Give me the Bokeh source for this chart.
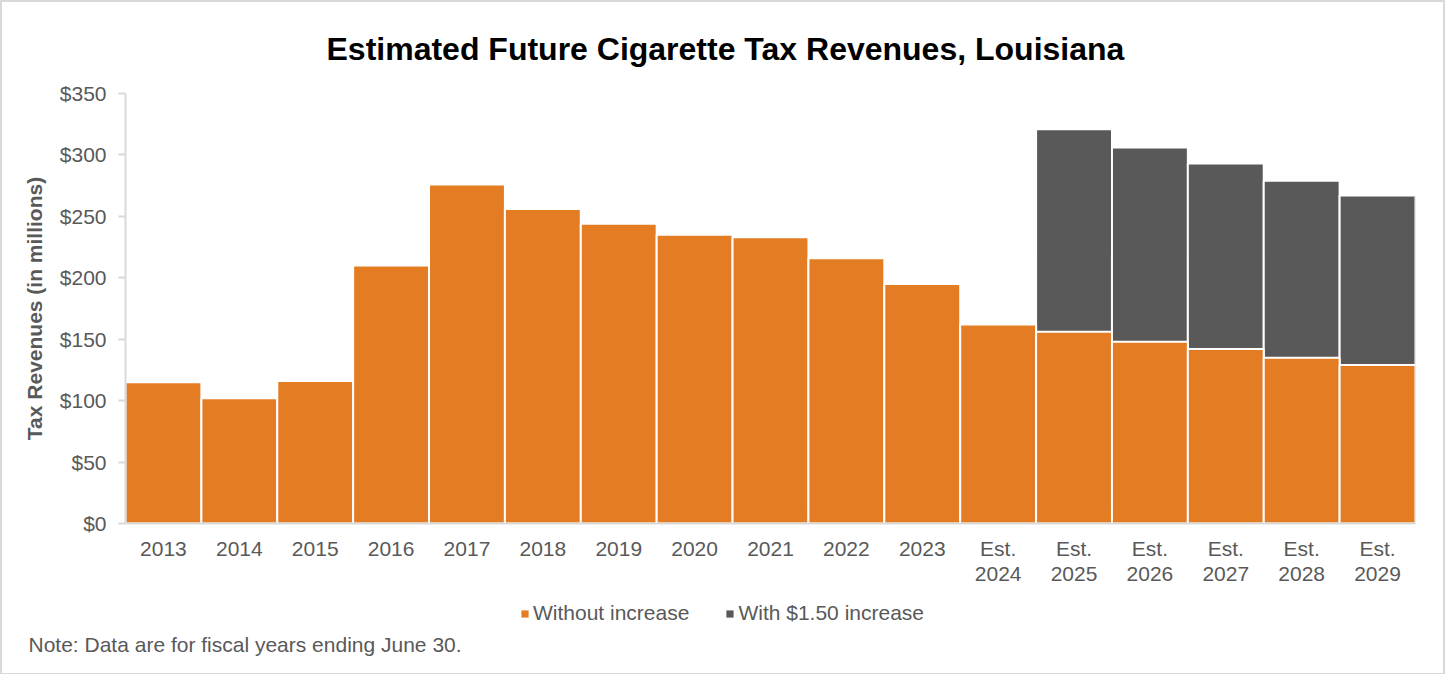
from bokeh.plotting import figure
from bokeh.models import (ColumnDataSource, FactorRange, Range1d, NumeralTickFormatter,
                          Legend, LegendItem, Title, FixedTicker)
from bokeh.layouts import column
from bokeh.embed import file_html
from bokeh.resources import INLINE

years = ["2013", "2014", "2015", "2016", "2017", "2018", "2019", "2020", "2021",
         "2022", "2023", "Est.\n2024", "Est.\n2025", "Est.\n2026", "Est.\n2027",
         "Est.\n2028", "Est.\n2029"]
without_increase = [115, 102, 116, 210, 276, 256, 244, 235, 233, 216, 195, 162,
                    156, 148, 142, 135, 129]
est_years = ["Est.\n2025", "Est.\n2026", "Est.\n2027", "Est.\n2028", "Est.\n2029"]
with_increase = [321, 306, 293, 279, 267]
series_names = ["Without increase", "With $1.50 increase"]
note_text = "Note: Data are for fiscal years ending June 30."
title_text = "Estimated Future Cigarette Tax Revenues, Louisiana"

ORANGE = "#E47C24"
GREY = "#595959"
TEXT = "#595959"
FONT = "Liberation Sans"
FS = "21px"

p = figure(frame_width=1290, frame_height=430, x_range=FactorRange(*years, range_padding=0),
           y_range=Range1d(0, 350), output_backend="svg", toolbar_location=None,
           min_border_left=123, min_border_right=28, min_border_top=91, min_border_bottom=62)

src_w = ColumnDataSource(dict(x=est_years, top=with_increase))
src_o = ColumnDataSource(dict(x=years, top=without_increase))
p.vbar(x="x", top="top", width=1.0, source=src_w, fill_color=GREY,
       line_color="white", line_width=2)
p.vbar(x="x", top="top", width=1.0, source=src_o, fill_color=ORANGE,
       line_color="white", line_width=2)

p.xgrid.visible = False
p.ygrid.visible = False
p.outline_line_color = None

p.yaxis.ticker = FixedTicker(ticks=[0, 50, 100, 150, 200, 250, 300, 350])
p.yaxis.formatter = NumeralTickFormatter(format="$0")
p.yaxis.axis_line_color = "#d9d9d9"
p.yaxis.axis_line_width = 2
p.yaxis.major_tick_line_color = "#d9d9d9"
p.yaxis.major_tick_line_width = 2
p.yaxis.major_tick_out = 7
p.yaxis.major_tick_in = 0
p.yaxis.minor_tick_line_color = None
p.yaxis.major_label_text_font = FONT
p.yaxis.major_label_text_font_size = FS
p.yaxis.major_label_text_color = TEXT
p.yaxis.major_label_standoff = 12
p.yaxis.axis_label = "Tax Revenues (in millions)"
p.yaxis.axis_label_text_font = FONT
p.yaxis.axis_label_text_font_size = FS
p.yaxis.axis_label_text_font_style = "bold"
p.yaxis.axis_label_text_color = TEXT
p.yaxis.axis_label_standoff = 11

p.xaxis.axis_line_color = "#d9d9d9"
p.xaxis.axis_line_width = 2
p.xaxis.major_tick_line_color = None
p.xaxis.minor_tick_line_color = None
p.xaxis.major_label_text_font = FONT
p.xaxis.major_label_text_font_size = FS
p.xaxis.major_label_text_color = TEXT
p.xaxis.major_label_text_line_height = 1.12
p.xaxis.major_label_standoff = 7

title = Title(text=title_text, align="left",
              text_font=FONT, text_font_size="32px", text_font_style="bold",
              text_color="black", standoff=53, offset=201)
p.add_layout(title, "above")

# bottom strip: legend and note (frame aligned with the chart frame)
p2 = figure(frame_width=1290, frame_height=40, x_range=Range1d(0, 1), y_range=Range1d(0, 1),
            output_backend="svg", toolbar_location=None,
            min_border_left=123, min_border_right=28, min_border_top=0, min_border_bottom=45,
            x_axis_location=None, y_axis_location=None)
p2.xgrid.visible = False
p2.ygrid.visible = False
p2.outline_line_color = None
proxy = ColumnDataSource(dict(x=[0], top=[0]))
l_o = p2.vbar(x="x", top="top", width=0, source=proxy, fill_color=ORANGE,
              line_color=None, visible=False)
l_g = p2.vbar(x="x", top="top", width=0, source=proxy, fill_color=GREY,
              line_color=None, visible=False)
legend = Legend(items=[LegendItem(label=series_names[0], renderers=[l_o]),
                       LegendItem(label=series_names[1], renderers=[l_g])],
                orientation="horizontal", location=(395, 3),
                glyph_width=9, glyph_height=9, label_standoff=4, spacing=36,
                label_text_font=FONT, label_text_font_size=FS,
                label_text_color=TEXT, border_line_color=None,
                background_fill_alpha=0, margin=0, padding=0,
                inactive_fill_alpha=0)
p2.add_layout(legend, "center")
note = Title(text=note_text, align="left", text_font=FONT, text_font_size=FS,
             text_font_style="normal", text_color=TEXT, offset=-97, standoff=4)
p2.add_layout(note, "below")

layout = column(p, p2, spacing=0)
layout.styles = {"border": "2px solid #d9d9d9"}

open("out.html", "w").write(file_html(layout, INLINE))
